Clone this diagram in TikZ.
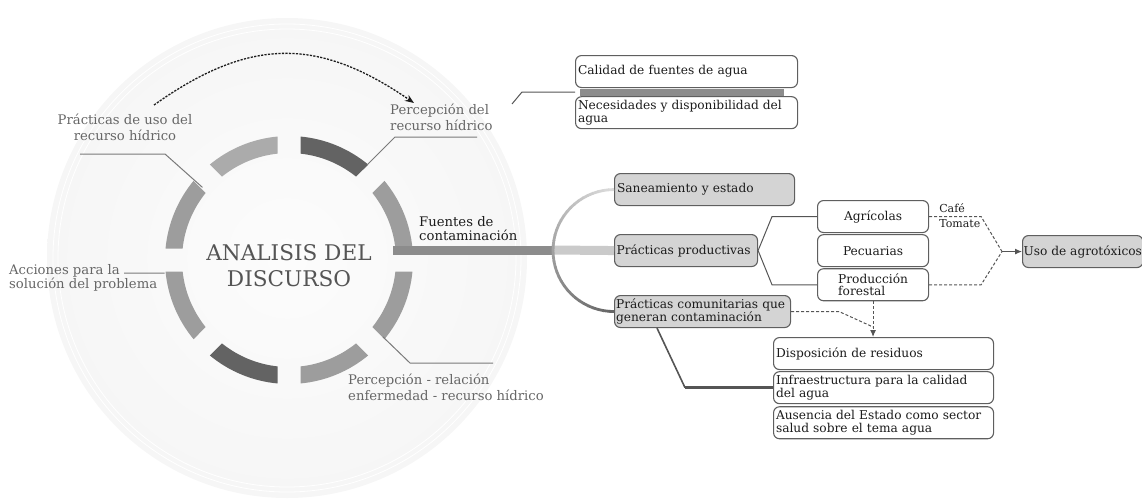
\documentclass[tikz,border=0pt]{standalone}
\usepackage{fontspec}
\setmainfont{DejaVu Serif}
\usepackage{xcolor}
\definecolor{discCore}{HTML}{FCFCFC}
\definecolor{discMid}{HTML}{F6F6F6}
\definecolor{discTone}{HTML}{F0F0F0}
\definecolor{ringMid}{HTML}{9D9D9D}
\definecolor{ringLight}{HTML}{ABABAB}
\definecolor{ringDark}{HTML}{636363}
\definecolor{labelGray}{HTML}{666666}
\definecolor{leadGray}{HTML}{7A7A7A}
\definecolor{boxFill}{HTML}{D4D4D4}
\definecolor{boxBorder}{HTML}{5F5F5F}
\definecolor{inkDark}{HTML}{1C1C1C}
\definecolor{barDark}{HTML}{8C8C8C}
\definecolor{barLight}{HTML}{CACACA}
\definecolor{arcLight}{HTML}{DADADA}
\definecolor{arcDark}{HTML}{666666}
\definecolor{linkGray}{HTML}{555555}
\usepackage{tikz}
\usetikzlibrary{arrows.meta,positioning,calc}

\newcommand\cardfont{\fontsize{12.2}{12.6}\selectfont}
\newcommand\tagfont{\fontsize{13.2}{15.5}\selectfont}
\newcommand\hubfont{\fontsize{21.6}{26}\selectfont}
\newcommand\notefont{\fontsize{11}{13}\selectfont}

\pgfdeclareradialshading{discshade}{\pgfpoint{0bp}{0bp}}{color(0bp)=(discCore); color(25bp)=(discMid); color(46bp)=(discTone); color(50bp)=(discTone); color(100bp)=(discTone)}

\tikzset{
    card/.style={
        draw=boxBorder,
        fill=white,
        rectangle,
        rounded corners=6pt,
        line width=1.1pt,
        minimum height=32pt,
        inner xsep=2.5pt,
        inner ysep=1pt,
        font=\cardfont,
        text=inkDark,
        anchor=north west
    },
    graycard/.style={
        card,
        fill=boxFill
    },
    textw/.style={
        text width=#1,
        align=left
    },
    tag/.style={
        font=\tagfont,
        text=labelGray,
        inner sep=0pt,
        align=left,
        anchor=north west
    },
    lead/.style={
        draw=leadGray,
        line width=1pt
    },
    link/.style={
        draw=linkGray,
        line width=1pt
    },
    dashlink/.style={
        draw=linkGray,
        line width=1pt,
        dash pattern=on 3pt off 2pt
    },
    tip/.style={
        -{Latex[length=7pt,width=6pt]}
    },
    densedot/.style={
        draw=inkDark,
        line width=1.3pt,
        dash pattern=on 2.2pt off 1.3pt,
        -{Stealth[length=9pt,width=7pt,fill=leadGray]}
    },
    note/.style={
        font=\notefont,
        text=inkDark,
        inner sep=0pt,
        anchor=base west
    }
}

\begin{document}
\begin{tikzpicture}[x=1pt, y=1pt]
    \useasboundingbox (0,0) rectangle (1142,-498);

    % faint disc behind the ring
    \coordinate (discCtr) at (287,-258);
    \shade[shading=discshade] (discCtr) circle (240);
    \draw[white, line width=0.8pt] (discCtr) circle (229);
    \draw[white, line width=0.8pt] (discCtr) circle (234);

    % broken ring
    \coordinate (ctr) at (289,-260);
    \foreach \a/\c in {22.5/ringMid, 67.5/ringDark, 112.5/ringLight, 157.5/ringMid,
                       202.5/ringMid, 247.5/ringDark, 292.5/ringMid, 337.5/ringMid} {
        \fill[\c] ($(ctr)+({\a-17.18}:124)$) arc[start angle={\a-17.18}, end angle={\a+17.18}, radius=124]
            -- ($(ctr)+({\a+16.33}:107)$) arc[start angle={\a+16.33}, end angle={\a-16.33}, radius=107] -- cycle;
    }
    \node[font=\hubfont, text=linkGray, align=center] (hub) at (289,-266) {ANALISIS DEL\\DISCURSO};

    % labels round the ring
    \node[tag, align=center, anchor=north] (tUso) at (125,-114) {Prácticas de uso del\\recurso hídrico};
    \node[tag] (tPerc) at (390,-104) {Percepción del\\recurso hídrico};
    \node[tag, text=inkDark, font=\fontsize{13.2}{14}\selectfont] (tFuen) at (419,-216) {Fuentes de\\contaminación};
    \node[tag, font=\fontsize{13.2}{14}\selectfont] (tAcc) at (9,-264) {Acciones para la\\solución del problema};
    \node[tag] (tRel) at (348,-374) {Percepción - relación\\enfermedad - recurso hídrico};

    \coordinate (pUso) at ($(ctr)+(140:113)$);
    \coordinate (kUsoA) at (80,-154);
    \coordinate (kUsoB) at (165,-154);
    \coordinate (pPerc) at ($(ctr)+(50.6:123)$);
    \coordinate (kPercA) at (395,-137);
    \coordinate (kPercB) at (477,-137);
    \coordinate (pAcc) at ($(ctr)+(186:125)$);
    \coordinate (kAcc) at (124,-273);
    \coordinate (pRel) at ($(ctr)+(-39.3:121.5)$);
    \coordinate (kRelA) at (410,-363);
    \coordinate (kRelB) at (493,-363);
    \draw[lead] (kUsoA) -- (kUsoB) -- (pUso);
    \draw[lead] (pPerc) -- (kPercA) -- (kPercB);
    \draw[lead] (kAcc) -- (pAcc);
    \draw[lead] (pRel) -- (kRelA) -- (kRelB);

    \coordinate (arcFrom) at (154,-105);
    \coordinate (arcTo) at (414,-103);
    \draw[densedot] (arcFrom) .. controls (250,-37) and (318,-37) .. (arcTo);

    % water quality
    \node[card, textw=217pt] (calidad) at (575,-55) {Calidad de fuentes de agua};
    \node[card, textw=217pt, below=8pt of calidad] (necesidad) {Necesidades y disponibilidad del\\agua};
    \fill[barDark] ([xshift=5pt,yshift=-0.5pt]calidad.south west) rectangle ([xshift=-14pt,yshift=0.5pt]necesidad.north east);
    \coordinate (kCalA) at (512,-104);
    \coordinate (kCalB) at (522,-92);
    \draw[link] (kCalA) -- (kCalB) -- (calidad.west |- kCalB);

    % sources of contamination
    \node[graycard, textw=175pt] (sanea) at (614,-173) {Saneamiento y estado};
    \node[graycard, textw=139pt, inner xsep=2pt] (prodv) at (614,-234) {Prácticas productivas};
    \node[graycard, textw=173pt, inner xsep=1.5pt] (comun) at (614,-295) {Prácticas comunitarias que\\generan contaminación};

    \coordinate (arcCtr) at ($(sanea.west)!0.5!(comun.west)$);
    \coordinate (arcW) at ($(arcCtr)+(-61,0)$);
    \coordinate (fuenStart) at (393,-250);
    \draw[line width=9pt, barDark] (fuenStart) -- (fuenStart -| arcW);
    \draw[line width=9pt, barLight] (fuenStart -| arcW) -- (prodv.west);
    \foreach \i in {0,...,35} {
        \pgfmathtruncatemacro\mixval{\i*100/35}
        \draw[line width=2.8pt, color=arcDark!\mixval!arcLight]
            ($(arcCtr)+({90+5*\i}:61)$) arc[start angle={90+5*\i}, end angle={95.5+5*\i}, radius=61];
    }

    % productive practices
    \node[card, minimum width=111pt, align=left] (agri) at (817,-200) {Agrícolas};
    \node[card, minimum width=111pt, align=left, below=1pt of agri] (pecu) {Pecuarias};
    \node[card, minimum width=111pt, align=left, below=1pt of pecu] (forest) {Producción\\forestal};
    \draw[link] (prodv.east) -- ([xshift=-45pt]agri.west) -- (agri.west);
    \draw[link] (prodv.east) -- ([xshift=-45pt]forest.west) -- (forest.west);

    \node[graycard, minimum width=119pt, inner xsep=1pt] (uso) at (1022,-235) {Uso de agrotóxicos};
    \coordinate (fork) at ($(uso.west)+(-20,0)$);
    \draw[dashlink] (agri.east) -- ([xshift=52pt]agri.east) -- (fork);
    \draw[dashlink] (forest.east) -- ([xshift=52pt]forest.east) -- (fork);
    \draw[link, tip] (fork) -- (uso.west);
    \node[note] (cafe) at ($(agri.east)+(10,4)$) {Café};
    \node[note] (tomate) at ($(agri.east)+(10,-11)$) {Tomate};

    % community practices
    \node[card, textw=215pt] (dispo) at (773,-337) {Disposición de residuos};
    \node[card, textw=215pt, below=1pt of dispo] (infra) {Infraestructura para la calidad\\del agua};
    \node[card, textw=215pt, below=2pt of infra] (ausen) {Ausencia del Estado como sector\\salud sobre el tema agua};

    \coordinate (drop) at ($(forest.south |- dispo.north)+(0,10)$);
    \draw[dashlink] (comun.east) -- ([xshift=48pt]comun.east) -- (drop);
    \draw[dashlink, tip] (forest.south) -- (forest.south |- dispo.north);
    \draw[link, line width=1.6pt] ([xshift=43pt]comun.south west) -- ([xshift=-88pt]infra.west);
    \draw[link, line width=3pt] ([xshift=-88pt]infra.west) -- (infra.west);
\end{tikzpicture}
\end{document}
